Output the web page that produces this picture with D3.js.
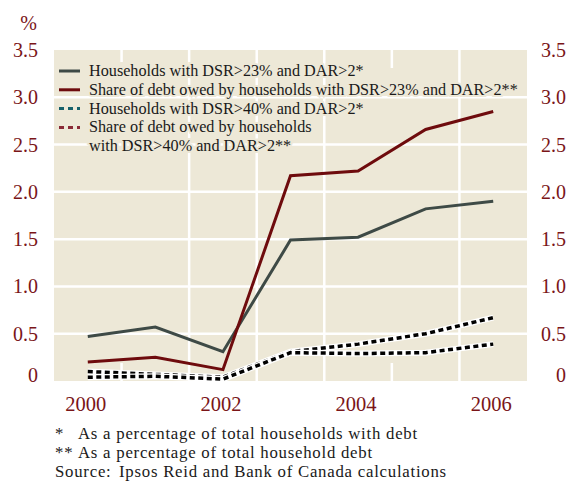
<!DOCTYPE html>
<html>
<head>
<meta charset="utf-8">
<script src="https://cdn.jsdelivr.net/npm/d3@7"></script>
<style>
  body { margin: 0; background: #fff; }
</style>
</head>
<body>
<svg id="chart" width="566" height="483"></svg>
<script>
const years = [2000, 2001, 2002, 2003, 2004, 2005, 2006];
const hh23 = [0.47, 0.57, 0.31, 1.49, 1.52, 1.82, 1.90];
const debt23 = [0.20, 0.25, 0.12, 2.17, 2.22, 2.66, 2.85];
const hh40 = [0.04, 0.05, 0.02, 0.30, 0.29, 0.30, 0.39];
const debt40 = [0.10, 0.07, 0.04, 0.31, 0.39, 0.50, 0.67];
const yTicks = [0, 0.5, 1.0, 1.5, 2.0, 2.5, 3.0, 3.5];
const xTicks = [2000, 2002, 2004, 2006];
const fullGrid = [2001.5, 2002.5, 2003.5, 2005.5];
const shortGrid = [2000.5, 2004.5];
const legendLines = [
  "Households with DSR>23% and DAR>2*",
  "Share of debt owed by households with DSR>23% and DAR>2**",
  "Households with DSR>40% and DAR>2*",
  "Share of debt owed by households",
  "with DSR>40% and DAR>2**"
];
const notes = [
  ["*", "As a percentage of total households with debt"],
  ["**", "As a percentage of total household debt"],
  ["Source:", "Ipsos Reid and Bank of Canada calculations"]
];

const red = "#6e0b0d";
const labelRed = "#7a1518";
const grey = "#3e4a46";
const bg = "#ede8d7";

const svg = d3.select("#chart");
const x = d3.scaleLinear().domain([1999.5, 2006.5]).range([54, 527]);
const y = d3.scaleLinear().domain([0, 3.5]).range([381, 50]);

// plot background
svg.append("rect")
  .attr("x", x(1999.5)).attr("y", y(3.5))
  .attr("width", x(2006.5) - x(1999.5)).attr("height", y(0) - y(3.5))
  .attr("fill", bg);

// gridlines
const grid = svg.append("g").attr("stroke", "#fff").attr("stroke-width", 2.5);
grid.selectAll("line.h").data(yTicks.filter(d => d > 0 && d < 3.5)).join("line")
  .attr("class", "h")
  .attr("x1", x(1999.5)).attr("x2", x(2006.5))
  .attr("y1", d => y(d)).attr("y2", d => y(d));
grid.selectAll("line.v").data(fullGrid).join("line")
  .attr("class", "v")
  .attr("x1", d => x(d)).attr("x2", d => x(d))
  .attr("y1", y(3.5)).attr("y2", y(0));
grid.selectAll("line.vt").data(shortGrid).join("line")
  .attr("class", "vt")
  .attr("x1", d => x(d)).attr("x2", d => x(d))
  .attr("y1", y(3.5)).attr("y2", (d, i) => y(3.5) + (i ? 18 : 12));
grid.selectAll("line.vb").data(shortGrid).join("line")
  .attr("class", "vb")
  .attr("x1", d => x(d)).attr("x2", d => x(d))
  .attr("y1", y(0) - 18).attr("y2", y(0));

// legend
const leg = svg.append("g");
leg.selectAll("text").data(legendLines).join("text")
  .attr("x", 89).attr("y", (d, i) => 76 + i * 18.8)
  .attr("font-size", 16.2).attr("fill", "#1a1a1a")
  .attr("stroke", bg).attr("stroke-width", 4).attr("paint-order", "stroke")
  .text(d => d);
const icons = [
  { c: grey, dash: null },
  { c: red, dash: null },
  { c: "#16606a", dash: "5,4" },
  { c: "#8a2a36", dash: "5,4" }
];
leg.selectAll("line").data(icons).join("line")
  .attr("x1", 59).attr("x2", 80)
  .attr("y1", (d, i) => 71 + i * 18.8).attr("y2", (d, i) => 71 + i * 18.8)
  .attr("stroke", d => d.c).attr("stroke-width", 3)
  .attr("stroke-dasharray", d => d.dash);

// lines
const line = vals => d3.line().x((d, i) => x(years[i])).y(d => y(d))(vals);
[debt40, hh40].forEach(vals => {
  svg.append("path").attr("d", line(vals)).attr("fill", "none")
    .attr("stroke", "#fff").attr("stroke-width", 6);
  svg.append("path").attr("d", line(vals)).attr("fill", "none")
    .attr("stroke", "#000").attr("stroke-width", 3.5)
    .attr("stroke-dasharray", "5,3.5");
});
svg.append("path").attr("d", line(hh23)).attr("fill", "none")
  .attr("stroke", grey).attr("stroke-width", 3);
svg.append("path").attr("d", line(debt23)).attr("fill", "none")
  .attr("stroke", red).attr("stroke-width", 3);

// y labels both sides
const fmt = d => d === 0 ? "0" : d3.format(".1f")(d);
svg.selectAll("text.yl").data(yTicks).join("text")
  .attr("class", "yl")
  .attr("x", 38).attr("y", d => Math.min(y(d), 375)).attr("dy", "0.35em")
  .attr("text-anchor", "end").attr("font-size", 20).attr("fill", labelRed)
  .text(fmt);
svg.selectAll("text.yr").data(yTicks).join("text")
  .attr("class", "yr")
  .attr("x", 566).attr("y", d => Math.min(y(d), 375)).attr("dy", "0.35em")
  .attr("text-anchor", "end").attr("font-size", 20).attr("fill", labelRed)
  .text(fmt);
svg.append("text").attr("x", 37).attr("y", 23).attr("dy", "0.35em")
  .attr("text-anchor", "end").attr("font-size", 20).attr("fill", labelRed)
  .text("%");

// x labels
svg.selectAll("text.xl").data(xTicks).join("text")
  .attr("class", "xl")
  .attr("x", d => x(d) - 2).attr("y", 404).attr("dy", "0.35em")
  .attr("text-anchor", "middle").attr("font-size", 20.5).attr("fill", labelRed)
  .text(d => d);

// notes
const nt = svg.append("g").attr("font-size", 16.8).attr("fill", "#1a1a1a");
notes.forEach((n, i) => {
  nt.append("text").attr("x", 55).attr("y", 438.5 + i * 19.3)
    .attr("letter-spacing", 0.75).text(n[0]);
  nt.append("text").attr("x", i === 2 ? 119 : 78).attr("y", 438.5 + i * 19.3)
    .attr("letter-spacing", 0.75).text(n[1]);
});

svg.selectAll("text").style("font-family", '"Liberation Serif"');
</script>
</body>
</html>
